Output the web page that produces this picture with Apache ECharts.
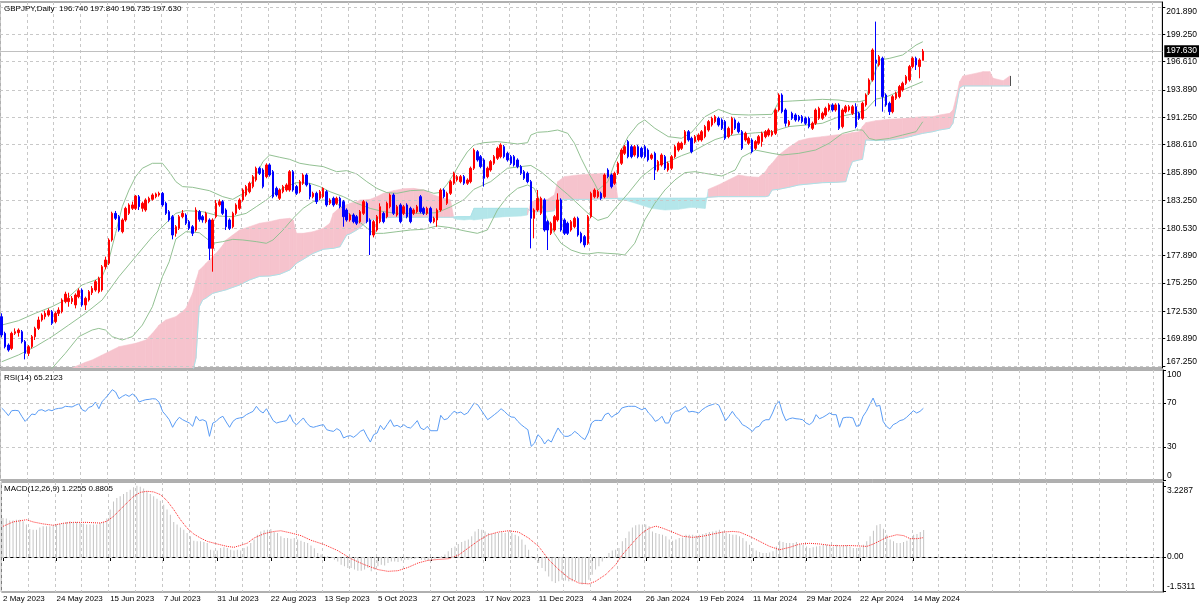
<!DOCTYPE html>
<html>
<head>
<meta charset="utf-8">
<script src="https://cdn.jsdelivr.net/npm/echarts/dist/echarts.min.js"></script>
<style>
html, body { margin: 0; padding: 0; background: #fff; }
#chart { width: 1200px; height: 609px; }
</style>
</head>
<body>
<div id="chart"></div>
<script>
// GBPJPY daily, bar 0 = 2 May 2023, last bar = 17 May 2024
const dateLabels = ['2 May 2023', '24 May 2023', '15 Jun 2023', '7 Jul 2023', '31 Jul 2023', '22 Aug 2023',
  '13 Sep 2023', '5 Oct 2023', '27 Oct 2023', '17 Nov 2023', '11 Dec 2023', '4 Jan 2024', '26 Jan 2024',
  '19 Feb 2024', '11 Mar 2024', '29 Mar 2024', '22 Apr 2024', '14 May 2024'];
const priceTicks = [167.25, 169.89, 172.53, 175.25, 177.89, 180.53, 183.25, 185.89, 188.61, 191.25, 193.89, 196.61, 199.25, 201.89];
const rsiTicks = [0, 30, 70, 100];
const macdTicks = [-1.5311, 0, 3.2287];
const bidPrice = 197.63;

// [open, close, low, high]
const ohlc = [
[172.01,170.24,170.01,172.33],[170.40,169.11,168.95,170.56],[169.27,168.79,168.63,169.43],[168.95,170.40,168.79,170.56],[170.40,170.56,170.24,170.88],
[170.47,170.72,170.08,170.88],[170.56,169.60,169.43,170.72],[169.60,168.47,167.89,169.76],[168.47,169.11,168.21,169.27],[169.11,170.08,168.95,170.24],
[170.08,170.88,169.76,171.04],[170.88,171.69,170.72,172.01],[171.69,172.17,171.53,172.33],[172.01,172.33,171.75,172.59],[172.17,172.59,172.01,172.81],
[172.49,171.37,171.21,172.65],[171.53,172.33,171.37,172.49],[172.33,172.65,172.07,172.91],[172.49,173.62,172.33,173.78],[173.46,174.19,173.30,174.42],
[173.46,173.78,172.97,174.32],[173.46,173.78,173.23,174.00],[173.14,174.10,172.81,174.26],[173.94,174.52,173.78,174.74],[174.58,173.14,172.97,174.74],
[173.14,173.78,172.65,173.94],[173.62,174.42,173.46,174.58],[174.32,174.74,174.10,174.97],[174.58,175.39,174.42,175.55],[174.42,175.71,174.26,175.87],
[174.58,176.83,174.42,176.99],[176.83,177.48,176.58,177.80],[177.16,179.41,176.99,179.57],[179.41,181.98,179.25,182.14],[181.98,181.50,181.34,182.21],
[181.66,180.37,180.21,181.82],[180.21,181.34,180.05,181.50],[181.34,182.46,181.18,182.62],[181.98,182.79,181.82,182.95],[182.46,182.79,182.30,183.11],
[182.46,183.65,182.30,183.75],[183.59,182.62,182.30,183.75],[182.46,182.95,182.14,183.11],[182.30,183.27,182.14,183.43],[183.11,183.43,182.95,183.59],
[183.33,183.75,183.20,183.91],[183.59,183.85,183.43,183.98],[183.75,183.91,183.59,184.07],[183.91,182.79,182.62,184.04],[182.95,181.98,181.82,183.11],
[182.14,181.34,181.18,182.30],[181.66,179.89,179.47,181.82],[180.05,180.69,179.73,180.85],[180.53,181.66,180.37,181.82],[181.66,181.98,181.50,182.30],
[181.82,181.02,180.85,181.98],[181.18,180.53,180.37,181.34],[180.69,180.05,179.79,180.85],[180.37,182.30,180.21,182.56],[182.14,181.40,181.18,182.30],
[181.66,181.34,181.08,181.82],[181.18,181.98,181.02,182.14],[181.34,178.60,177.48,181.50],[178.60,181.34,176.35,181.50],[181.66,182.95,181.50,183.27],
[182.79,183.11,182.62,183.33],[183.11,181.98,181.82,183.27],[182.30,180.69,180.37,182.46],[181.34,180.53,180.37,181.50],[180.69,181.98,180.53,182.14],
[181.98,182.79,181.82,182.95],[182.46,183.27,182.30,183.43],[183.27,184.23,183.11,184.39],[183.75,184.56,183.59,184.72],[184.07,184.88,183.91,185.04],
[184.56,185.52,184.39,185.68],[185.20,186.33,185.04,186.49],[186.33,185.84,185.68,186.49],[186.16,184.56,184.39,186.33],[185.52,186.65,185.36,186.81],
[186.65,185.68,185.52,186.81],[186.00,183.59,183.43,186.16],[184.39,183.75,183.59,184.56],[183.43,184.23,183.27,184.39],[184.07,184.56,183.91,184.72],
[184.23,184.72,184.07,184.88],[184.23,186.00,184.07,186.16],[186.00,184.23,184.07,186.16],[184.56,183.91,183.75,184.72],[184.07,185.04,183.91,185.20],
[184.88,185.68,184.72,185.84],[185.68,184.72,184.56,185.84],[184.72,183.59,183.33,184.88],[183.59,183.91,183.43,184.07],[183.91,183.11,182.88,184.07],
[183.43,184.07,183.27,184.23],[183.59,184.39,183.43,184.49],[184.07,182.79,182.62,184.23],[182.95,183.27,182.79,183.43],[183.43,182.79,182.62,183.59],
[182.95,183.43,182.79,183.59],[183.43,182.62,182.46,183.59],[183.11,181.66,180.69,183.27],[182.30,181.34,181.18,182.46],[181.34,181.82,181.18,181.98],
[181.82,181.18,181.02,181.98],[181.66,181.02,180.85,181.82],[181.18,182.14,181.02,182.30],[181.98,183.11,181.82,183.27],[182.95,181.18,181.02,183.11],
[181.34,179.89,177.96,181.50],[179.89,181.18,179.66,181.34],[180.37,181.66,180.21,181.82],[181.18,182.62,181.02,182.95],[181.98,181.18,181.02,182.14],
[181.66,182.95,181.50,183.11],[182.62,183.75,182.46,183.91],[183.75,181.98,181.82,183.91],[181.82,182.62,181.66,182.79],[182.79,181.18,181.02,182.95],
[181.98,182.62,181.82,182.79],[182.79,181.66,181.50,182.95],[182.46,181.18,181.02,182.62],[181.98,182.30,181.82,182.46],[182.14,182.62,181.98,182.79],
[183.59,182.14,181.98,183.75],[182.46,181.98,181.82,182.62],[181.98,182.46,181.82,182.62],[182.46,181.18,181.02,182.62],[181.18,181.50,181.02,181.66],
[181.34,182.30,180.69,182.46],[182.30,184.23,182.14,184.39],[184.23,183.59,183.43,184.39],[182.95,183.91,182.79,184.07],[183.91,185.04,183.75,185.20],
[184.88,185.84,184.72,186.00],[185.20,185.52,185.04,185.68],[185.04,185.52,184.88,185.68],[185.52,184.88,184.72,185.68],[184.88,185.20,184.72,185.36],
[185.04,186.33,184.88,186.49],[186.33,188.09,186.16,188.25],[187.93,187.13,186.97,188.09],[187.45,186.49,186.33,187.61],[187.13,185.36,184.56,187.29],
[185.52,186.33,185.36,186.49],[186.16,186.97,186.00,187.13],[186.81,187.45,186.65,187.61],[187.29,188.25,187.13,188.41],[187.45,188.58,187.29,188.74],
[188.41,187.45,187.29,188.58],[187.77,187.13,186.97,187.93],[187.45,186.81,186.65,187.61],[187.45,186.65,186.49,187.61],[187.13,186.49,186.33,187.29],
[186.49,185.84,185.68,186.65],[186.00,185.36,185.20,186.16],[185.84,185.04,184.88,186.00],[185.04,181.50,178.60,185.20],[181.50,182.30,179.57,182.46],
[182.30,183.43,182.14,184.23],[181.98,183.43,181.82,183.59],[183.27,180.37,180.21,183.43],[181.18,180.37,178.44,181.34],[180.05,181.02,179.89,181.18],
[180.37,181.66,180.21,181.82],[181.34,183.27,181.18,183.91],[183.27,180.37,180.21,183.43],[181.34,180.05,179.89,181.50],[181.02,180.05,179.89,181.18],
[180.37,181.18,180.21,181.34],[180.69,181.50,180.53,181.66],[181.50,179.89,179.73,181.66],[180.05,179.25,179.09,180.21],[179.73,178.93,178.70,179.89],
[179.09,181.66,178.93,181.82],[181.66,183.91,181.50,184.07],[183.59,184.23,183.43,184.39],[183.59,184.07,183.43,184.23],[183.91,183.43,183.27,184.07],
[183.59,185.68,183.43,185.84],[186.16,185.52,185.36,186.33],[185.68,184.56,184.39,185.84],[184.88,185.84,184.72,186.00],[185.84,186.81,185.68,186.97],
[186.81,188.09,186.65,188.25],[187.77,188.41,187.61,188.58],[188.90,187.45,187.29,189.06],[188.41,187.45,187.29,188.58],[187.61,188.41,187.45,188.58],
[188.41,187.45,187.29,188.58],[188.25,187.45,187.29,188.41],[188.41,187.45,187.29,188.58],[188.09,187.13,186.97,188.25],[187.29,187.61,187.13,187.77],
[187.77,186.16,185.20,187.93],[186.16,186.97,186.00,187.13],[186.65,187.61,186.49,187.77],[187.45,186.33,186.16,187.61],[186.16,186.81,186.00,186.97],
[186.33,187.45,186.16,187.61],[187.45,188.41,187.29,188.58],[188.09,188.74,187.93,188.90],[188.25,188.74,188.09,188.90],[188.74,189.86,188.58,190.02],
[189.86,189.06,188.90,190.02],[189.22,187.93,187.77,189.38],[188.90,189.38,188.74,189.54],[189.06,189.54,188.90,189.70],[189.06,189.86,188.90,190.02],
[189.38,190.35,189.22,190.51],[190.02,190.83,189.86,190.99],[190.51,191.15,190.35,191.31],[190.83,191.31,190.67,191.47],[191.15,190.51,190.35,191.31],
[190.99,190.18,190.02,191.15],[190.83,189.22,189.06,190.99],[189.38,190.18,189.22,190.35],[189.70,191.15,189.54,191.31],[190.99,190.18,190.02,191.15],
[190.67,189.86,189.70,190.83],[189.86,188.25,188.09,190.02],[189.06,189.70,188.90,189.86],[188.74,189.22,188.58,189.38],[189.06,187.93,187.77,189.22],
[188.25,188.90,188.09,189.06],[188.74,189.38,188.58,189.54],[188.90,189.70,188.41,189.86],[189.38,189.86,189.22,190.02],[189.54,190.02,189.38,190.18],
[189.54,189.86,189.38,190.02],[189.70,191.95,189.54,192.11],[191.95,193.40,191.79,193.56],[193.40,191.79,191.63,193.56],[191.95,190.67,190.35,192.11],
[190.51,190.83,190.35,190.99],[191.63,191.15,190.99,191.79],[191.47,190.99,190.83,191.63],[191.31,190.99,190.83,191.47],[191.31,190.83,190.67,191.47],
[191.15,190.67,190.51,191.31],[191.15,190.35,190.18,191.31],[190.18,190.67,190.02,190.83],[190.67,191.95,190.51,192.11],[191.15,192.11,190.99,192.27],
[191.15,191.63,190.99,191.79],[191.47,192.11,191.31,192.27],[191.95,192.44,191.79,192.60],[192.44,191.95,191.79,192.60],[191.95,192.44,191.79,192.60],
[192.44,190.18,190.02,192.60],[190.35,191.95,190.18,192.11],[191.79,192.27,191.63,192.44],[191.95,192.27,191.79,192.44],[191.63,192.27,191.47,192.44],
[192.27,190.35,190.18,192.60],[191.63,191.15,190.99,191.79],[191.15,192.60,190.99,192.76],[192.44,193.40,192.27,193.56],[193.56,194.85,193.40,195.01],
[194.85,197.74,194.69,197.90],[196.78,196.46,192.30,200.48],[196.30,197.10,196.14,197.26],[196.94,193.24,191.79,197.10],[193.40,192.44,192.27,193.56],
[192.60,191.79,191.47,192.76],[191.79,193.24,191.63,193.40],[193.08,193.56,192.92,193.72],[193.24,194.21,193.08,194.37],[193.88,194.53,193.72,194.69],
[194.53,195.17,194.37,195.33],[194.85,196.14,194.69,196.30],[196.14,196.94,195.98,197.10],[196.94,196.30,195.81,197.10],[196.14,196.78,195.01,196.94],
[196.740,197.630,196.735,197.840]
];

// Bollinger bands [bar, value]
const bbUpper = [[0,171.20],[5,171.62],[10,172.33],[15,172.97],[19,173.62],[24,175.07],[28,175.55],[30,175.87],[32,177.48],[34,180.05],
  [36,182.62],[38,184.23],[40,185.52],[42,186.33],[45,186.81],[48,186.81],[50,186.0],[52,185.04],[54,184.56],[57,184.49],[62,184.17],
  [66,183.59],[69,183.33],[73,184.07],[76,185.68],[78,186.97],[80,187.61],[83,187.39],[86,187.19],[89,186.81],[92,186.65],[96,186.49],
  [100,186.00],[103,186.10],[106,185.78],[109,185.04],[112,184.39],[115,183.98],[118,183.91],[122,184.17],[126,184.23],[129,183.91],
  [131,184.0],[133,184.8],[135,185.8],[137,186.9],[139,187.9],[141,188.58],[144,188.80],[148,188.90],[151,188.80],[154,188.67],
  [157,188.80],[158,189.54],[160,189.80],[163,189.86],[166,190.02],[169,189.70],[171,188.74],[173,187.29],[175,186.00],[177,184.88],
  [178,184.23],[181,185.04],[183,186.81],[187,189.38],[190,190.6],[192,190.99],[195,190.19],[199,189.38],[203,189.22],[206,189.8],
  [210,191.31],[214,192.01],[218,191.53],[223,191.47],[230,191.53],[232,192.75],[236,192.82],[241,192.91],[245,192.98],[250,192.91],
  [253,192.75],[256,192.75],[258,192.91],[259,194.20],[261,195.81],[262,196.77],[265,196.93],[269,197.26],[273,198.22],[275,198.54]];
const bbMiddle = [[0,167.66],[5,168.31],[10,169.11],[15,170.08],[20,171.20],[25,172.33],[30,173.62],[35,175.87],[40,177.80],[45,179.73],
  [50,181.34],[52,181.98],[55,182.24],[60,182.14],[65,181.72],[69,181.66],[73,181.98],[76,182.62],[79,183.27],[82,184.07],[85,184.56],
  [88,184.94],[92,184.88],[95,184.56],[98,184.07],[102,183.59],[106,182.95],[110,182.46],[114,182.14],[118,181.98],[122,181.98],
  [126,181.98],[130,182.05],[134,182.6],[138,183.3],[141,184.3],[146,185.04],[151,186.33],[155,186.49],[158,186.6],[161,186.0],
  [165,184.9],[169,183.8],[173,182.6],[175,182.0],[178,181.3],[181,181.6],[183,182.4],[187,183.9],[191,185.5],[195,186.5],[199,186.95],
  [203,187.55],[206,187.9],[210,188.6],[213,189.1],[216,189.4],[220,189.6],[225,189.75],[230,189.86],[235,190.35],[240,190.5],
  [245,190.67],[250,191.31],[255,191.63],[258,191.95],[261,193.0],[264,193.2],[269,193.88],[275,194.69]];
const bbLower = [[0,164.1],[5,165.0],[10,166.0],[15,167.02],[19,168.47],[23,170.08],[27,170.72],[29,170.88],[31,170.72],[33,170.08],
  [36,169.76],[39,170.08],[42,171.20],[45,172.97],[48,175.87],[50,177.3],[52,179.5],[55,180.21],[59,180.11],[63,179.09],[66,179.25],
  [69,179.47],[72,179.41],[76,179.25],[79,179.09],[81,179.41],[84,180.37],[87,181.50],[90,182.46],[93,183.11],[96,183.27],[100,182.95],
  [103,182.14],[106,181.34],[108,180.85],[111,180.05],[114,180.05],[118,180.21],[122,180.37],[126,180.44],[130,180.76],[134,180.6],
  [138,180.3],[142,180.05],[145,180.37],[148,182.30],[151,183.59],[154,184.39],[157,184.72],[159,184.39],[161,182.95],[163,181.34],
  [165,180.05],[167,179.09],[170,178.44],[173,178.12],[175,178.06],[178,178.19],[181,178.12],[184,178.06],[186,177.96],[189,179.09],
  [192,181.34],[195,182.95],[198,184.23],[201,185.20],[204,185.91],[207,186.00],[210,185.84],[215,185.58],[219,186.16],[221,187.4],
  [225,188.09],[230,187.77],[233,187.61],[238,187.77],[243,188.09],[247,188.73],[251,189.69],[255,190.02],[257,190.02],[259,189.21],
  [261,189.05],[265,189.21],[269,189.54],[273,189.86],[275,190.82]];

// Ichimoku cloud [bar, senkou span A, senkou span B]
const cloud = [[0,165.0,163.5],[10,165.8,164.0],[18,166.6,164.5],[22,167.2,164.8],[25,167.6,165.0],[27,167.83,165.2],[30,168.31,165.4],
  [35,169.11,165.6],[40,169.44,165.8],[43,169.76,166.0],[45,170.40,166.0],[47,171.20,166.2],[49,171.69,166.3],[52,172.01,166.4],
  [55,172.81,166.5],[57,174.26,166.6],[58,175.5,168.0],[59,176.51,172.97],[60,176.8,173.62],[61,177.16,173.8],[63,177.8,174.26],
  [64,178.12,174.35],[66,178.9,174.52],[67,179.41,174.6],[69,179.89,174.84],[71,180.37,175.06],[74,180.69,175.55],[77,181.02,175.90],
  [80,181.18,175.93],[83,181.40,176.10],[86,181.50,176.51],[87,181.34,176.8],[88,180.05,177.16],[90,180.05,177.54],[93,180.21,178.12],
  [96,180.53,178.51],[98,181.02,178.58],[99,181.98,178.60],[101,182.56,178.76],[103,182.8,179.89],[104,182.95,180.0],[106,183.1,180.37],
  [107,183.27,180.6],[109,183.30,181.18],[110,183.33,181.3],[112,183.59,181.50],[114,183.91,181.55],[117,184.17,181.60],[120,184.36,181.60],
  [123,184.39,181.60],[126,184.23,181.60],[129,183.75,181.60],[132,183.43,181.60],[134,183.27,181.60],[135,181.5,181.62],[136,181.40,181.66],
  [138,181.34,181.66],[140,181.40,181.66],[141,181.34,182.46],[145,181.50,182.46],[150,181.66,182.46],[155,181.72,182.46],[157,181.82,182.46],
  [158,183.11,182.14],[160,183.27,182.14],[163,183.33,182.14],[165,183.75,182.24],[166,185.04,183.27],[168,185.52,183.33],[172,185.68,183.33],
  [176,185.78,183.33],[180,185.84,183.40],[183,185.68,183.40],[184,183.27,183.43],[186,183.27,183.43],[190,182.88,183.43],[194,182.46,183.43],
  [198,182.30,183.43],[202,182.37,183.43],[206,182.56,183.43],[210,182.45,183.43],[211,184.30,183.53],[214,184.72,183.59],[217,185.20,183.59],
  [220,185.68,183.59],[223,185.52,183.59],[226,185.46,183.59],[228,186.00,183.59],[229,186.49,183.66],[230,186.81,184.23],[232,187.61,184.30],
  [235,188.35,184.49],[238,188.99,184.72],[241,189.22,184.81],[245,189.38,184.94],[249,189.54,184.97],[252,189.64,185.04],[253,189.70,186.16],
  [254,189.77,186.97],[256,189.86,187.13],[257,190.35,187.19],[258,190.73,189.06],[261,190.92,189.00],[265,191.05,189.06],[269,191.12,189.22],
  [273,191.25,189.54],[275,191.31,189.70],[278,191.31,189.86],[280,191.47,190.02],[283,191.63,190.18],[284,191.95,190.67],[285,193.24,192.27],
  [286,194.69,194.05],[287,195.24,194.27],[290,195.43,194.27],[293,195.65,194.27],[295,195.65,194.27],[296,195.01,194.27],[299,194.78,194.27],
  [301,195.24,194.27]];

// RSI(14), one value per bar
const rsi = [65.4,62.4,58.5,63.0,63.3,63.0,57.9,53.3,56.4,60.0, 59.4,63.3,63.9,62.4,63.9,63.0,64.5,65.1,65.4,67.0,
  66.7,66.4,67.9,69.4,63.9,62.4,66.0,67.0,70.9,64.8, 71.5,74.5,78.2,82.1,80.0,73.9,76.0,77.6,76.0,78.2,
  76.0,70.9,72.1,73.0,73.3,73.9,73.6,70.6,62.4,58.8, 54.8,47.9,53.3,57.0,54.8,53.3,51.8,48.8,57.9,54.0,
  54.8,53.3,39.7,51.8,53.3,56.4,57.9,52.7,47.9,53.3, 55.7,56.4,57.0,59.4,60.9,62.4,67.0,63.0,60.9,64.8,
  59.4,54.0,51.8,52.7,53.3,54.0,59.4,52.7,50.3,53.3, 56.4,51.8,48.8,47.9,48.8,49.7,50.3,45.7,44.8,44.2,
  46.7,44.8,38.2,39.7,40.3,38.8,41.2,44.2,45.7,39.7, 34.5,41.2,42.7,49.7,45.7,50.3,54.8,48.8,49.7,47.9,
  50.3,47.9,47.3,50.3,54.0,47.3,45.7,48.8,44.8,44.8, 44.8,58.8,54.8,55.7,59.4,62.4,60.9,61.8,59.4,60.9,
  65.4,70.0,68.5,63.9,59.4,54.8,57.0,59.4,61.8,64.8, 62.4,59.4,57.3,57.0,53.3,50.3,47.9,45.7,30.6,33.6,
  41.2,38.2,32.7,36.7,34.5,41.2,47.3,42.7,39.7,39.7, 41.2,44.2,41.8,38.8,36.7,42.7,51.8,54.2,54.2,54.0,
  59.4,60.9,57.0,59.4,60.9,65.4,66.4,67.0,67.0,67.0, 65.4,63.9,65.4,60.9,57.9,53.3,54.8,57.9,51.8,51.8,
  59.4,62.4,63.0,64.8,67.0,61.8,62.4,61.8,60.9,63.9, 66.0,67.6,68.5,69.7,67.9,60.9,54.0,57.9,62.4,57.9,
  54.8,50.3,48.8,46.7,44.2,47.9,48.8,53.3,54.8,54.8, 60.9,68.5,71.5,60.9,54.0,55.7,56.4,55.7,55.4,54.8,
  51.8,50.3,52.7,59.4,55.7,57.0,58.8,60.9,59.4,59.4, 47.9,56.4,57.0,57.0,56.4,48.8,49.7,57.9,62.4,68.5,
  74.5,67.0,67.9,53.3,48.8,46.4,50.3,51.8,54.0,54.8, 57.0,60.0,63.0,60.9,62.4,65.2123];

// MACD(12,26,9) main line (histogram), one value per bar
const macd = [1.77,1.74,1.65,1.65,1.69,1.69,1.62,1.47,1.27,1.24, 1.24,1.34,1.39,1.39,1.39,1.44,1.47,1.50,1.54,1.59,
  1.62,1.59,1.59,1.54,1.51,1.47,1.47,1.47,1.47,1.54, 1.59,1.74,2.15,2.52,2.67,2.75,2.86,2.95,3.05,3.16,
  3.23,3.19,3.10,2.98,2.86,2.75,2.64,2.55,2.37,2.15, 1.92,1.59,1.47,1.34,1.24,1.09,0.94,0.74,0.71,0.71,
  0.68,0.63,0.33,0.29,0.29,0.41,0.44,0.41,0.33,0.29, 0.33,0.29,0.41,0.48,0.63,0.79,1.01,1.16,1.21,1.24,
  1.27,1.13,1.09,0.94,0.86,0.86,0.83,0.86,0.79,0.74, 0.68,0.63,0.52,0.40,0.18,0.11,0.03,0.03,-0.02,-0.12,
  -0.20,-0.35,-0.42,-0.50,-0.50,-0.57,-0.62,-0.62,-0.57,-0.50, -0.65,-0.57,-0.42,-0.35,-0.38,-0.27,-0.20,-0.20,-0.23,-0.17,
  -0.12,-0.12,-0.09,-0.08,-0.05,-0.12,-0.14,-0.17,-0.12,-0.08, -0.02,0.03,0.11,0.26,0.41,0.48,0.59,0.68,0.74,0.79,
  0.94,1.16,1.27,1.24,1.16,1.09,1.04,1.09,1.09,1.12, 1.09,1.16,1.09,1.01,0.94,0.79,0.56,0.33,0.03,-0.12,
  -0.27,-0.50,-0.65,-0.88,-1.10,-1.18,-1.10,-1.03,-1.07,-1.10, -1.10,-1.07,-1.13,-1.25,-1.22,-1.03,-0.80,-0.57,-0.42,-0.20,
  -0.05,0.18,0.29,0.33,0.41,0.71,0.86,1.16,1.34,1.44, 1.47,1.47,1.47,1.39,1.16,1.09,1.04,1.01,0.94,0.79,
  0.74,0.79,0.86,0.89,1.01,1.01,1.01,0.98,1.01,1.04, 1.09,1.13,1.16,1.19,1.24,1.16,1.09,1.04,1.01,1.01,
  0.94,0.86,0.71,0.56,0.41,0.29,0.23,0.18,0.18,0.21, 0.26,0.48,0.74,0.68,0.63,0.63,0.63,0.68,0.59,0.56,
  0.48,0.41,0.44,0.48,0.51,0.56,0.56,0.53,0.48,0.56, 0.48,0.53,0.53,0.48,0.41,0.41,0.44,0.56,0.71,0.94,
  1.19,1.44,1.50,1.28,1.01,0.79,0.71,0.63,0.63,0.68, 0.74,0.86,1.01,1.04,1.13,1.2255];

// MACD signal line [bar, value]
const macdSignal = [[0,1.39],[3,1.59],[7,1.69],[9,1.59],[12,1.50],[15,1.44],[18,1.53],[21,1.57],[25,1.57],[29,1.54],[31,1.62],
  [33,1.84],[35,2.15],[37,2.45],[39,2.75],[41,2.93],[43,2.98],[45,2.95],[47,2.83],[49,2.55],[51,2.15],[53,1.69],[55,1.31],[57,1.04],
  [59,0.86],[61,0.71],[64,0.59],[67,0.48],[69,0.44],[71,0.53],[73,0.63],[75,0.86],[78,1.06],[81,1.16],[83,1.19],[86,1.09],[89,0.97],
  [92,0.76],[96,0.56],[100,0.29],[104,-0.08],[108,-0.35],[112,-0.57],[115,-0.65],[118,-0.62],[121,-0.47],[124,-0.27],[127,-0.15],
  [130,-0.11],[133,-0.08],[136,0.08],[139,0.41],[142,0.74],[145,1.01],[148,1.13],[151,1.19],[154,1.13],[157,0.86],[160,0.48],
  [163,-0.12],[166,-0.57],[169,-0.95],[172,-1.18],[175,-1.22],[177,-1.10],[180,-0.80],[183,-0.35],[185,0.10],[187,0.45],[189,0.80],
  [191,1.10],[193,1.30],[195,1.40],[197,1.31],[200,1.13],[203,0.94],[206,0.89],[209,0.94],[212,1.04],[215,1.13],[218,1.16],[220,1.13],
  [223,0.94],[226,0.71],[229,0.48],[232,0.33],[235,0.44],[238,0.59],[241,0.62],[244,0.59],[247,0.53],[250,0.51],[253,0.52],[256,0.50],
  [258,0.48],[260,0.59],[262,0.74],[264,0.89],[267,1.01],[269,0.97],[271,0.83],[273,0.83],[275,0.8805]];

// ---- layout / style ----
const SLOTS = 347;                // bars that fit the visible window
const slots = Array.from({ length: SLOTS }, (_, i) => String(i));
const FONT = 'Liberation Sans';
const GRID_C = '#c8c8c8';
const DASH = [3, 3];
const BB_C = '#93c193';
const PINK = '#f6c3cd';
const CYAN = '#b4e6ea';

const last = ohlc[ohlc.length - 1];
const headText = 'GBPJPY,Daily  ' + [last[0], last[3], last[2], last[1]].map(v => v.toFixed(3)).join(' ');
const rsiText = 'RSI(14) ' + rsi[rsi.length - 1].toFixed(4);
const macdText = 'MACD(12,26,9) ' + macd[macd.length - 1].toFixed(4) + ' ' + macdSignal[macdSignal.length - 1][1].toFixed(4);

const txt = { color: '#000', fontSize: 8, fontFamily: FONT, fontWeight: 'normal' };
const numTxt = { color: '#000', fontSize: 8.5, fontFamily: FONT, fontWeight: 'normal' };

function xAxisFor(gi, bottom) {
  const ax = {
    type: 'category', gridIndex: gi, data: slots, boundaryGap: true,
    axisLine: { show: false }, axisTick: { show: false }, axisLabel: { show: false },
    splitLine: { show: true, interval: (i) => i % 8 === 0, lineStyle: { color: GRID_C, type: DASH, width: 1 } }
  };
  if (bottom) {
    const isLabel = (i) => i % 16 === 0 && i / 16 < dateLabels.length;
    ax.axisLine = { show: true, lineStyle: { color: '#000', width: 1 } };
    ax.axisTick = { show: true, alignWithLabel: true, interval: isLabel, length: 4, lineStyle: { color: '#000' } };
    ax.axisLabel = Object.assign({
      show: true, interval: isLabel, align: 'left', margin: 3,
      formatter: (v, i) => dateLabels[Math.round(i / 16)] || ''
    }, txt);
  }
  return ax;
}

function yAxisFor(gi, min, max, ticks, fmt) {
  return {
    type: 'value', gridIndex: gi, position: 'right', min: min, max: max,
    axisLine: { show: true, lineStyle: { color: '#000', width: 1 } },
    axisTick: { show: true, customValues: ticks, length: 3, lineStyle: { color: '#000' } },
    axisLabel: Object.assign({
      customValues: ticks, formatter: fmt, margin: 4,
      verticalAlignMinLabel: 'bottom', verticalAlignMaxLabel: 'top'
    }, numTxt),
    splitLine: { show: false }
  };
}

function gridLines(values) {
  return {
    symbol: 'none', silent: true, animation: false, label: { show: false },
    lineStyle: { color: GRID_C, type: DASH, width: 1 },
    emphasis: { disabled: true },
    data: values.map(v => ({ yAxis: v }))
  };
}

function bbLine(data) {
  return {
    type: 'line', xAxisIndex: 0, yAxisIndex: 0, data: data, symbol: 'none', z: 3,
    lineStyle: { color: BB_C, width: 1 }, silent: true, clip: true
  };
}

const cloudEnd = cloud[cloud.length - 1];

const chart = echarts.init(document.getElementById('chart'), null, { renderer: 'canvas' });

chart.setOption({
  animation: false,
  backgroundColor: '#ffffff',
  title: [
    { text: headText, left: 4, top: 5, padding: 0, textStyle: txt },
    { text: rsiText, left: 4, top: 374, padding: 0, textStyle: txt },
    { text: macdText, left: 4, top: 485, padding: 0, textStyle: txt }
  ],
  grid: [
    { left: 0, right: 37, top: 2, height: 366, show: true, borderColor: '#606060', borderWidth: 1 },
    { left: 0, right: 37, top: 370, height: 110, show: true, borderColor: '#606060', borderWidth: 1 },
    { left: 0, right: 37, top: 482, height: 110, show: true, borderColor: '#606060', borderWidth: 1 }
  ],
  xAxis: [xAxisFor(0, false), xAxisFor(1, false), xAxisFor(2, true)],
  yAxis: [
    yAxisFor(0, 167.057, 202.372, priceTicks, v => v.toFixed(3)),
    yAxisFor(1, 0, 100, rsiTicks, v => String(v)),
    yAxisFor(2, -1.586, 3.40, macdTicks, v => (v === 0 ? '0.00' : v.toFixed(4)))
  ],
  series: [
    {
      type: 'custom', name: 'cloud', xAxisIndex: 0, yAxisIndex: 0, z: 1, clip: true, silent: true,
      data: cloud,
      encode: { x: 0, y: [1, 2] },
      renderItem: function (params, api) {
        const k = params.dataIndex;
        if (k >= cloud.length - 1) return null;
        const p = cloud[k], q = cloud[k + 1];
        const bull = p[1] + q[1] >= p[2] + q[2];
        const col = bull ? PINK : CYAN;
        return {
          type: 'polygon',
          shape: { points: [api.coord([p[0], p[1]]), api.coord([q[0], q[1]]), api.coord([q[0], q[2]]), api.coord([p[0], p[2]])] },
          style: { fill: col, stroke: col, lineWidth: 0.6 }
        };
      }
    },
    {
      type: 'line', name: 'spanB', xAxisIndex: 0, yAxisIndex: 0, z: 2, symbol: 'none', silent: true,
      data: cloud.map(r => [r[0], r[2]]), lineStyle: { color: '#a9e2e8', width: 1 },
      markLine: {
        symbol: 'none', silent: true, animation: false, label: { show: false },
        lineStyle: { color: '#505050', type: 'solid', width: 1 },
        data: [[{ coord: [cloudEnd[0], cloudEnd[2]] }, { coord: [cloudEnd[0], cloudEnd[1]] }]]
      }
    },
    Object.assign(bbLine(bbMiddle), { markLine: gridLines(priceTicks) }),
    bbLine(bbUpper),
    bbLine(bbLower),
    {
      type: 'candlestick', name: 'GBPJPY', xAxisIndex: 0, yAxisIndex: 0, z: 5, data: ohlc, barWidth: 2,
      itemStyle: { color: '#ff0000', color0: '#0000ff', borderColor: '#ff0000', borderColor0: '#0000ff', borderWidth: 1 },
      markLine: {
        symbol: 'none', silent: true, animation: false,
        lineStyle: { color: '#c0c0c0', type: 'solid', width: 1 },
        label: Object.assign({
          show: true, position: 'end', distance: 2, formatter: bidPrice.toFixed(3),
          backgroundColor: '#000', padding: [2, 2, 1, 2]
        }, numTxt, { color: '#fff' }),
        data: [{ yAxis: bidPrice }]
      }
    },
    {
      type: 'line', name: 'RSI', xAxisIndex: 1, yAxisIndex: 1, data: rsi, symbol: 'none', z: 3,
      lineStyle: { color: '#5a9cf5', width: 1 },
      markLine: gridLines([30, 70])
    },
    {
      type: 'bar', name: 'MACD', xAxisIndex: 2, yAxisIndex: 2, data: macd, barWidth: 1, z: 2,
      itemStyle: { color: '#c4c4c4' },
      markLine: gridLines([0])
    },
    {
      type: 'line', name: 'Signal', xAxisIndex: 2, yAxisIndex: 2, data: macdSignal, symbol: 'none', z: 3,
      lineStyle: { color: '#ff2020', width: 1, type: 'dotted' }
    }
  ]
});
</script>
</body>
</html>
